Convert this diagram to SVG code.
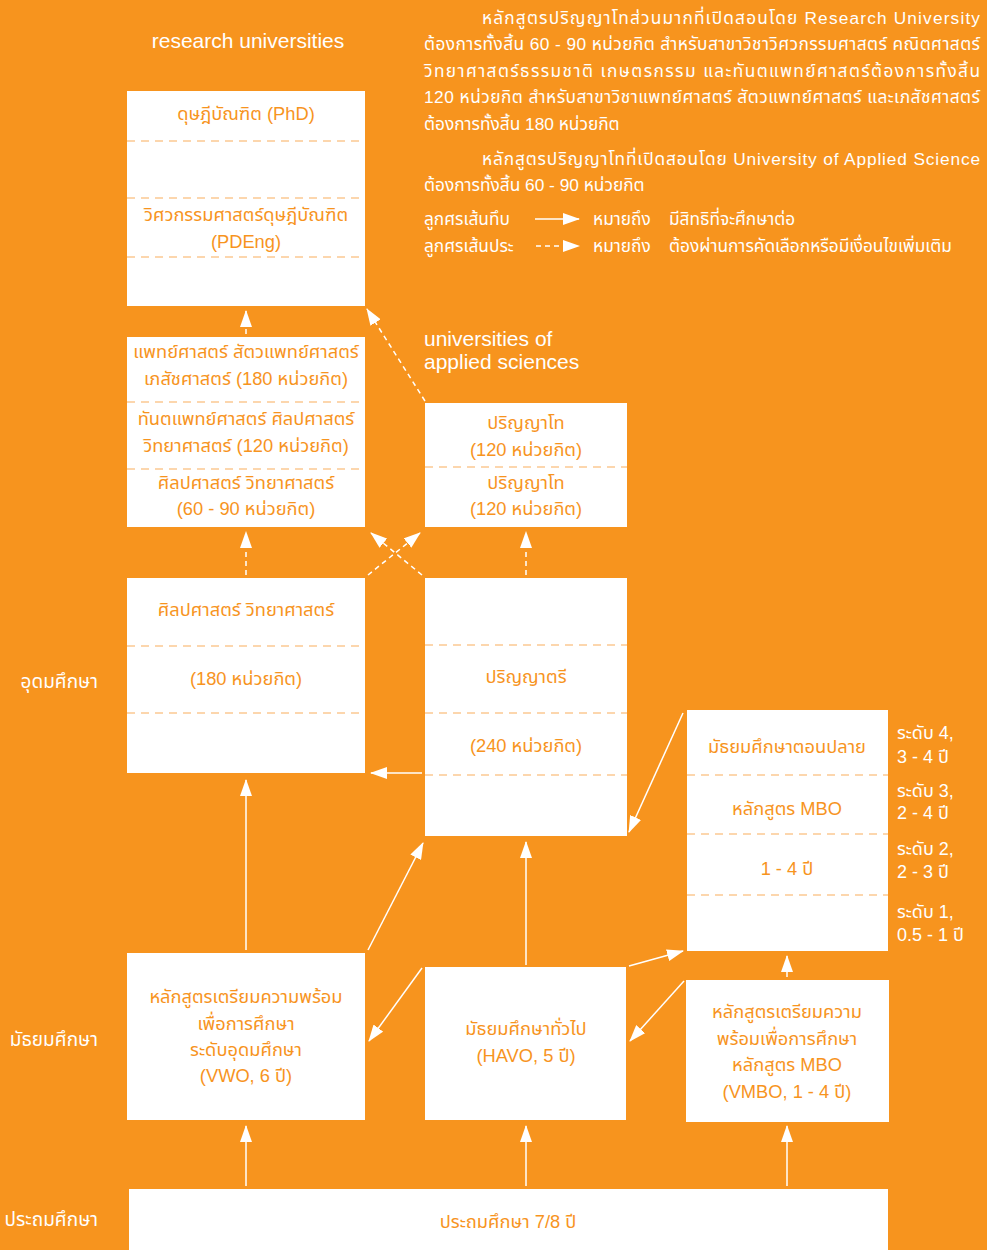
<svg xmlns="http://www.w3.org/2000/svg" width="987" height="1250" viewBox="0 0 987 1250">
<defs>
<style>
.bg{fill:#F7941E}
.box{fill:#FFFFFF}
.div{stroke:#F9AE5C;stroke-width:1.2;stroke-dasharray:8,6;fill:none}
.t{font-family:'Liberation Sans','Noto Sans Thai','Noto Sans','DejaVu Sans',sans-serif;font-size:18.3px;fill:#F7941E;text-anchor:middle}
.w{font-family:'Liberation Sans','Noto Sans Thai','Noto Sans','DejaVu Sans',sans-serif;font-size:17.3px;fill:#FFFFFF}
.h{font-family:'Liberation Sans','Noto Sans Thai','Noto Sans','DejaVu Sans',sans-serif;font-size:21px;fill:#FFFFFF}
.lbl{font-family:'Liberation Sans','Noto Sans Thai','Noto Sans','DejaVu Sans',sans-serif;font-size:19px;fill:#FFFFFF}
.lv{font-family:'Liberation Sans','Noto Sans Thai','Noto Sans','DejaVu Sans',sans-serif;font-size:18px;fill:#FFFFFF}
.a{stroke:#FFFFFF;stroke-width:1.5;fill:none;marker-end:url(#ah)}
.d{stroke:#FFFFFF;stroke-width:1.5;fill:none;stroke-dasharray:5,4;marker-end:url(#ah)}
</style>
<marker id="ah" markerUnits="userSpaceOnUse" markerWidth="17" markerHeight="12" refX="16" refY="6" orient="auto">
<path d="M0,0 L17,6 L0,12 Z" fill="#FFFFFF"/>
</marker>
</defs>
<rect class="bg" x="0" y="0" width="987" height="1250"/>

<g id="notes">
<text class="w" x="482" y="24" textLength="498" lengthAdjust="spacing">หลักสูตรปริญญาโทส่วนมากที่เปิดสอนโดย Research University</text>
<text class="w" x="424" y="50" textLength="556" lengthAdjust="spacing">ต้องการทั้งสิ้น 60 - 90 หน่วยกิต สำหรับสาขาวิชาวิศวกรรมศาสตร์ คณิตศาสตร์</text>
<text class="w" x="424" y="77" textLength="556" lengthAdjust="spacing">วิทยาศาสตร์ธรรมชาติ เกษตรกรรม และทันตแพทย์ศาสตร์ต้องการทั้งสิ้น</text>
<text class="w" x="424" y="103" textLength="556" lengthAdjust="spacing">120 หน่วยกิต สำหรับสาขาวิชาแพทย์ศาสตร์ สัตวแพทย์ศาสตร์ และเภสัชศาสตร์</text>
<text class="w" x="424" y="130">ต้องการทั้งสิ้น 180 หน่วยกิต</text>
<text class="w" x="482" y="165" textLength="498" lengthAdjust="spacing">หลักสูตรปริญญาโทที่เปิดสอนโดย University of Applied Science</text>
<text class="w" x="424" y="191">ต้องการทั้งสิ้น 60 - 90 หน่วยกิต</text>
<text class="w" x="424" y="225">ลูกศรเส้นทึบ</text>
<text class="w" x="593" y="225">หมายถึง</text>
<text class="w" x="669" y="225">มีสิทธิที่จะศึกษาต่อ</text>
<text class="w" x="424" y="252">ลูกศรเส้นประ</text>
<text class="w" x="593" y="252">หมายถึง</text>
<text class="w" x="669" y="252">ต้องผ่านการคัดเลือกหรือมีเงื่อนไขเพิ่มเติม</text>
<line class="a" x1="535" y1="219" x2="579" y2="219"/>
<line class="d" x1="536" y1="246" x2="579" y2="246"/>
</g>

<g id="headers">
<text class="h" x="248" y="48" text-anchor="middle">research universities</text>
<text class="h" x="424" y="346">universities of</text>
<text class="h" x="424" y="369">applied sciences</text>
</g>

<g id="levels">
<text class="lbl" x="98" y="688" text-anchor="end">อุดมศึกษา</text>
<text class="lbl" x="98" y="1046" text-anchor="end">มัธยมศึกษา</text>
<text class="lbl" x="98" y="1226" text-anchor="end">ประถมศึกษา</text>
</g>

<g id="phd">
<rect class="box" x="127" y="91" width="238" height="215"/>
<line class="div" x1="127" y1="141" x2="365" y2="141"/>
<line class="div" x1="127" y1="198" x2="365" y2="198"/>
<line class="div" x1="127" y1="257" x2="365" y2="257"/>
<text class="t" x="246" y="120">ดุษฎีบัณฑิต (PhD)</text>
<text class="t" x="246" y="221">วิศวกรรมศาสตร์ดุษฎีบัณฑิต</text>
<text class="t" x="246" y="248">(PDEng)</text>
</g>

<g id="master-ru">
<rect class="box" x="127" y="337" width="238" height="190"/>
<line class="div" x1="127" y1="402" x2="365" y2="402"/>
<line class="div" x1="127" y1="469" x2="365" y2="469"/>
<text class="t" x="246" y="358">แพทย์ศาสตร์ สัตวแพทย์ศาสตร์</text>
<text class="t" x="246" y="385">เภสัชศาสตร์ (180 หน่วยกิต)</text>
<text class="t" x="246" y="425">ทันตแพทย์ศาสตร์ ศิลปศาสตร์</text>
<text class="t" x="246" y="452">วิทยาศาสตร์ (120 หน่วยกิต)</text>
<text class="t" x="246" y="489">ศิลปศาสตร์ วิทยาศาสตร์</text>
<text class="t" x="246" y="515">(60 - 90 หน่วยกิต)</text>
</g>

<g id="master-uas">
<rect class="box" x="425" y="403" width="202" height="124"/>
<line class="div" x1="425" y1="467" x2="627" y2="467"/>
<text class="t" x="526" y="429">ปริญญาโท</text>
<text class="t" x="526" y="456">(120 หน่วยกิต)</text>
<text class="t" x="526" y="489">ปริญญาโท</text>
<text class="t" x="526" y="515">(120 หน่วยกิต)</text>
</g>

<g id="bachelor-ru">
<rect class="box" x="127" y="578" width="238" height="195"/>
<line class="div" x1="127" y1="646" x2="365" y2="646"/>
<line class="div" x1="127" y1="713" x2="365" y2="713"/>
<text class="t" x="246" y="616">ศิลปศาสตร์ วิทยาศาสตร์</text>
<text class="t" x="246" y="685">(180 หน่วยกิต)</text>
</g>

<g id="bachelor-uas">
<rect class="box" x="425" y="578" width="202" height="258"/>
<line class="div" x1="425" y1="645" x2="627" y2="645"/>
<line class="div" x1="425" y1="713" x2="627" y2="713"/>
<line class="div" x1="425" y1="775" x2="627" y2="775"/>
<text class="t" x="526" y="683">ปริญญาตรี</text>
<text class="t" x="526" y="752">(240 หน่วยกิต)</text>
</g>

<g id="mbo">
<rect class="box" x="687" y="710" width="201" height="241"/>
<line class="div" x1="687" y1="775" x2="888" y2="775"/>
<line class="div" x1="687" y1="834" x2="888" y2="834"/>
<line class="div" x1="687" y1="895" x2="888" y2="895"/>
<text class="t" x="787" y="753">มัธยมศึกษาตอนปลาย</text>
<text class="t" x="787" y="815">หลักสูตร MBO</text>
<text class="t" x="787" y="875">1 - 4 ปี</text>
</g>

<g id="mbo-levels">
<text class="lv" x="897" y="739">ระดับ 4,</text>
<text class="lv" x="897" y="763">3 - 4 ปี</text>
<text class="lv" x="897" y="797">ระดับ 3,</text>
<text class="lv" x="897" y="819">2 - 4 ปี</text>
<text class="lv" x="897" y="855">ระดับ 2,</text>
<text class="lv" x="897" y="878">2 - 3 ปี</text>
<text class="lv" x="897" y="918">ระดับ 1,</text>
<text class="lv" x="897" y="941">0.5 - 1 ปี</text>
</g>

<g id="vwo">
<rect class="box" x="127" y="953" width="238" height="167"/>
<text class="t" x="246" y="1003">หลักสูตรเตรียมความพร้อม</text>
<text class="t" x="246" y="1030">เพื่อการศึกษา</text>
<text class="t" x="246" y="1056">ระดับอุดมศึกษา</text>
<text class="t" x="246" y="1082">(VWO, 6 ปี)</text>
</g>

<g id="havo">
<rect class="box" x="425" y="967" width="201" height="153"/>
<text class="t" x="526" y="1035">มัธยมศึกษาทั่วไป</text>
<text class="t" x="526" y="1062">(HAVO, 5 ปี)</text>
</g>

<g id="vmbo">
<rect class="box" x="686" y="980" width="203" height="142"/>
<text class="t" x="787" y="1018">หลักสูตรเตรียมความ</text>
<text class="t" x="787" y="1045">พร้อมเพื่อการศึกษา</text>
<text class="t" x="787" y="1071">หลักสูตร MBO</text>
<text class="t" x="787" y="1098">(VMBO, 1 - 4 ปี)</text>
</g>

<g id="primary">
<rect class="box" x="129" y="1189" width="759" height="61"/>
<text class="t" x="508" y="1228">ประถมศึกษา 7/8 ปี</text>
</g>

<g id="connectors">
<line class="a" x1="246" y1="1186" x2="246" y2="1126"/>
<line class="a" x1="526" y1="1186" x2="526" y2="1126"/>
<line class="a" x1="787" y1="1186" x2="787" y2="1126"/>
<line class="a" x1="246" y1="950" x2="246" y2="780"/>
<line class="a" x1="368" y1="950" x2="423" y2="843"/>
<line class="a" x1="422" y1="968" x2="369" y2="1041"/>
<line class="a" x1="526" y1="965" x2="526" y2="842"/>
<line class="a" x1="629" y1="966" x2="683" y2="951"/>
<line class="a" x1="684" y1="981" x2="630" y2="1041"/>
<line class="a" x1="787" y1="977" x2="787" y2="956"/>
<line class="a" x1="683" y1="713" x2="629" y2="832"/>
<line class="a" x1="422" y1="773" x2="371" y2="773"/>
<line class="d" x1="246" y1="575" x2="246" y2="532"/>
<line class="d" x1="368" y1="575" x2="420" y2="533"/>
<line class="d" x1="422" y1="575" x2="371" y2="533"/>
<line class="d" x1="526" y1="575" x2="526" y2="532"/>
<line class="d" x1="246" y1="334" x2="246" y2="311"/>
<line class="d" x1="425" y1="401" x2="367" y2="309"/>
</g>
</svg>
